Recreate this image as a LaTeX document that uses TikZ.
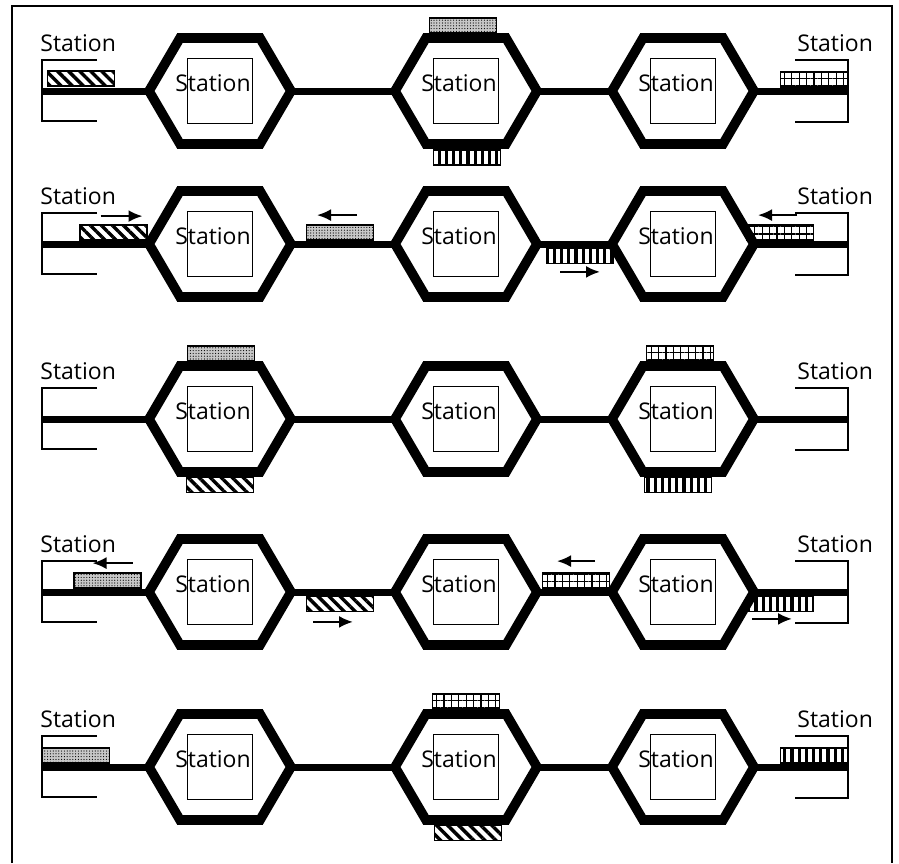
\documentclass[tikz,border=0pt]{standalone}
\usepackage{fontspec}
\setmainfont{Open Sans}
\usetikzlibrary{arrows.meta,patterns.meta}

\begin{document}
\begin{tikzpicture}[x=0.5pt,y=-0.5pt,font=\fontsize{11.5}{13}\selectfont,>={Latex[length=7pt,width=6pt]},
  hexw/.style={line width=4.8pt},track/.style={line width=3.5pt},brk/.style={line width=0.9pt},
  stn/.style={draw,line width=0.7pt,minimum size=32.5pt,inner sep=0pt},
  lbl/.style={inner sep=0pt,anchor=base west},
  train/.style={draw,line width=0.7pt,minimum width=33.5pt,minimum height=7.5pt,inner sep=0pt},
  hatched/.style={train,pattern={Lines[angle=-45,distance=3.9pt,line width=1.7pt]}},
  speckled/.style={train,preaction={fill=black!22},pattern={Dots[distance=1.4pt,radius=0.3pt]}},
  checked/.style={train,pattern={Hatch[angle=0,distance=3.7pt,line width=0.6pt]}},
  barred/.style={train,pattern={Lines[angle=90,distance=3.6pt,line width=1.6pt]}},
  move/.style={->,line width=1.1pt}]
\useasboundingbox (0,0) rectangle (899,863);
\draw[line width=0.8pt] (12,863) -- (12,6) -- (892,6) -- (892,863);
\foreach \r/\y in {1/91,2/244,3/419,4/592,5/767}{
  \draw[brk] (97,\y-31) -| (42,\y+30) -- (97,\y+30);
  \draw[brk] (795,\y-31) -| (848,\y+31) -- (795,\y+31);
  \coordinate (L\r) at (42,\y);
  \coordinate (R\r) at (848,\y);
  \node[lbl] (ln\r) at (40,\y-40) {Station};
  \node[lbl] (rn\r) at (797,\y-40) {Station};
  \foreach \c/\x in {1/220,2/466,3/683}{
    \node[stn] (s\r\c) at (\x,\y) {};
    \node[anchor=base,inner sep=0pt] (n\r\c) at (\x-7,\y) {Station};
    \draw[hexw] (\x-71,\y) coordinate (w\r\c) -- (\x-40,\y-53) -- (\x+40,\y-53) -- (\x+71,\y) coordinate (e\r\c) -- (\x+40,\y+53) -- (\x-40,\y+53) -- cycle;
  }
  \draw[track] (L\r) -- (w\r1) (e\r1) -- (w\r2) (e\r2) -- (w\r3) (e\r3) -- (R\r);
}
\node[hatched,anchor=south] (tr11) at (81,87.5) {};
\node[speckled,anchor=south] (tr12) at (463,33.5) {};
\node[barred,anchor=north] (tr13) at (467,148.5) {};
\node[checked,anchor=south] (tr14) at (814,87.5) {};
\node[hatched,anchor=south] (tr21) at (113.5,240.5) {};
\node[speckled,anchor=south] (tr22) at (340,240.5) {};
\node[barred,anchor=north] (tr23) at (580,247.5) {};
\node[checked,anchor=south] (tr24) at (780,240.5) {};
\draw[move] ([shift={(-13,-8)}]tr21.north) -- ([shift={(29,-8)}]tr21.north);
\draw[move] ([shift={(17,-9)}]tr22.north) -- ([shift={(-23,-9)}]tr22.north);
\draw[move] ([shift={(-20,8)}]tr23.south) -- ([shift={(20,8)}]tr23.south);
\draw[move] ([shift={(17,-9)}]tr24.north) -- ([shift={(-22,-9)}]tr24.north);
\node[speckled,anchor=south] (tr31) at (221,361.5) {};
\node[hatched,anchor=north] (tr32) at (220,476.5) {};
\node[checked,anchor=south] (tr33) at (680,361.5) {};
\node[barred,anchor=north] (tr34) at (678,476.5) {};
\node[speckled,anchor=south] (tr41) at (107.5,588.5) {};
\node[hatched,anchor=north] (tr42) at (340,595.5) {};
\node[checked,anchor=south] (tr43) at (576,588.5) {};
\node[barred,anchor=north] (tr44) at (780,595.5) {};
\draw[move] ([shift={(25,-9)}]tr41.north) -- ([shift={(-15,-9)}]tr41.north);
\draw[move] ([shift={(-27,10)}]tr42.south) -- ([shift={(13,10)}]tr42.south);
\draw[move] ([shift={(19,-11)}]tr43.north) -- ([shift={(-19,-11)}]tr43.north);
\draw[move] ([shift={(-28,7)}]tr44.south) -- ([shift={(12,7)}]tr44.south);
\node[speckled,anchor=south] (tr51) at (76,763.5) {};
\node[checked,anchor=south] (tr52) at (466,709.5) {};
\node[hatched,anchor=north] (tr53) at (468,824.5) {};
\node[barred,anchor=south] (tr54) at (814,763.5) {};
\end{tikzpicture}
\end{document}
